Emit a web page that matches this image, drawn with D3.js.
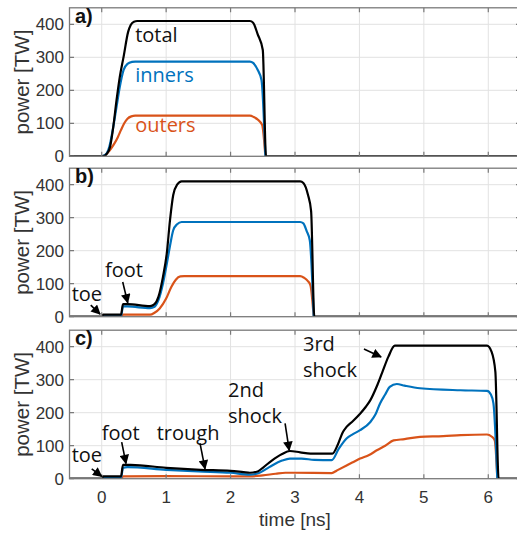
<!DOCTYPE html>
<html>
<head>
<meta charset="utf-8">
<script src="https://cdn.jsdelivr.net/npm/d3@7"></script>
<style>
  body { margin: 0; background: #fff; }
  svg { display: block; }
  .tick-label { font-family: "Liberation Sans", Arial, sans-serif; font-size: 17px; fill: #333; }
  .axis-title { font-family: "Liberation Sans", Arial, sans-serif; font-size: 20.5px; fill: #333; }
  .panel-label { font-family: "Liberation Sans", Arial, sans-serif; font-size: 20px; font-weight: bold; fill: #111; }
  .note { font-family: "Open Sans", "Noto Sans", sans-serif; font-size: 20px; }
</style>
</head>
<body>
<svg id="chart" width="517" height="533"></svg>
<script>
// tick values
var xTicks = [0, 1, 2, 3, 4, 5, 6]
var yTicks = [0, 100, 200, 300, 400]
var panelNames = ["a)", "b)", "c)"]

// panel a) [time ns, power TW]
var aTotal = [[-0.5,0],[0.02,0],[0.08,8],[0.13,29],[0.18,90],[0.23,170],[0.28,240],[0.34,302],[0.41,377],[0.45,398],[0.5,408],[0.55,410],[2.3,410],[2.35,405],[2.42,370],[2.5,322],[2.55,0],[6.5,0]]
var aInner = [[0,0],[0.06,5],[0.12,30],[0.18,90],[0.23,150],[0.28,210],[0.34,262],[0.4,280],[0.47,286],[0.52,287],[2.3,287],[2.35,283],[2.42,262],[2.48,231],[2.54,0]]
var aOuter = [[0,0],[0.05,3],[0.1,12],[0.15,25],[0.2,40],[0.25,58],[0.3,80],[0.35,100],[0.4,114],[0.46,121],[0.52,123],[2.3,123],[2.36,119],[2.43,110],[2.49,95],[2.54,0]]

// panel b)
var bTotal = [[-0.5,0],[0,0],[0.02,6],[0.3,6],[0.33,38],[0.4,38],[0.75,32],[0.82,38],[0.88,60],[0.95,120],[1.01,192],[1.06,293],[1.11,369],[1.17,400],[1.24,410],[3.08,410],[3.13,405],[3.2,370],[3.25,320],[3.3,0],[6.5,0]]
var bInner = [[0,1],[0.3,1],[0.33,31],[0.4,31],[0.75,26],[0.82,30],[0.88,50],[0.95,100],[1.01,160],[1.06,215],[1.11,262],[1.17,280],[1.24,287],[3.08,287],[3.13,283],[3.18,260],[3.23,231],[3.29,0]]
var bOuter = [[0,0],[0.3,0],[0.33,6],[0.75,6],[0.82,12],[0.9,25],[1.0,55],[1.08,90],[1.15,112],[1.22,122],[1.28,123],[3.08,123],[3.14,118],[3.2,108],[3.24,95],[3.29,0]]

// panel c)
var cTotal = [[-0.5,0],[0,0],[0.02,7],[0.3,7],[0.33,42],[0.45,42],[1.0,33],[1.53,27],[2.0,24],[2.2,20],[2.3,18],[2.42,22],[2.5,33],[2.64,55],[2.8,75],[2.92,84],[3.08,80],[3.24,76],[3.58,76],[3.67,106],[3.74,140],[3.8,157],[3.9,175],[4.01,197],[4.1,218],[4.17,238],[4.27,280],[4.35,320],[4.45,370],[4.55,403],[5.98,403],[6.05,385],[6.11,324],[6.16,0],[6.5,0]]
var cInner = [[0,2],[0.3,2],[0.33,33],[0.4,35],[1.0,27],[1.5,22],[2.0,18],[2.3,12],[2.45,18],[2.6,35],[2.8,55],[2.92,61],[3.1,61],[3.3,57],[3.57,56],[3.68,91],[3.8,122],[3.9,135],[4.01,147],[4.17,172],[4.25,195],[4.32,228],[4.4,255],[4.47,278],[4.58,287],[4.7,282],[4.94,274],[5.57,268],[5.98,266],[6.04,255],[6.08,228],[6.14,0]]
var cOuter = [[0,0],[0.3,0],[0.33,7],[1.0,8],[2.0,7],[2.3,7],[2.5,10],[2.7,15],[2.85,18],[3.0,18],[3.57,17],[3.65,25],[3.8,40],[3.9,50],[4.01,61],[4.15,72],[4.27,86],[4.4,100],[4.53,116],[4.7,120],[4.94,127],[5.3,129],[5.57,132],[5.98,134],[6.05,128],[6.1,116],[6.14,0]]

// text notes [panel, text, t, power, colour]
var notes = [
  [0, "total", 0.52, 347, "#111"],
  [0, "inners", 0.52, 226, "#0072BD"],
  [0, "outers", 0.52, 75, "#D95319"],
  [1, "toe", -0.466, 47, "#111"],
  [1, "foot", 0.05, 119, "#111"],
  [2, "toe", -0.466, 50, "#111"],
  [2, "foot", 0.0, 118, "#111"],
  [2, "trough", 0.854, 116, "#111"],
  [2, "2nd", 1.96, 248, "#111"],
  [2, "shock", 1.96, 168, "#111"],
  [2, "3rd", 3.124, 388, "#111"],
  [2, "shock", 3.124, 309, "#111"]
]
// arrows [panel, t0, p0, t1, p1]
var arrows = [
  [1, -0.17, 35, -0.026, 8],
  [1, 0.326, 105, 0.404, 42],
  [2, -0.155, 30, 0.0, 7],
  [2, 0.31, 111, 0.377, 46],
  [2, 1.526, 107, 1.604, 30],
  [2, 2.846, 168, 2.91, 86],
  [2, 4.07, 393, 4.336, 369]
]

var panels = [
  {top: 7.8, series: [aOuter, aInner, aTotal]},
  {top: 168.2, series: [bOuter, bInner, bTotal]},
  {top: 330.2, series: [cOuter, cInner, cTotal]}
]
var colors = ["#D95319", "#0072BD", "#000"]
var panelH = 148.5

var svg = d3.select("#chart")
var x = d3.scaleLinear().domain([-0.5, 6.5]).range([69.5, 520.5])
var boxColor = "#7a7a7a"

svg.append("defs").append("marker")
    .attr("id", "head")
    .attr("viewBox", "0 0 10 10")
    .attr("refX", 9).attr("refY", 5)
    .attr("markerWidth", 6.5).attr("markerHeight", 6)
    .attr("markerUnits", "strokeWidth")
    .attr("orient", "auto")
    .append("path").attr("d", "M0,0 L10,5 L0,10 z").attr("fill", "#000")

panels.forEach((p, k) => {
    var y = d3.scaleLinear().domain([0, 450]).range([p.top + panelH, p.top])
    p.y = y
    var g = svg.append("g")
    var x0 = x.range()[0], x1 = x.range()[1]

    svg.append("clipPath").attr("id", "clip" + k)
        .append("rect").attr("x", x0).attr("y", p.top).attr("width", x1 - x0).attr("height", panelH)

    // grid
    g.selectAll("line.gx").data(xTicks).enter().append("line")
        .attr("x1", d => x(d)).attr("x2", d => x(d))
        .attr("y1", p.top).attr("y2", p.top + panelH)
        .attr("stroke", "#e2e2e2").attr("stroke-width", 1)
    g.selectAll("line.gy").data(yTicks.slice(1)).enter().append("line")
        .attr("x1", x0).attr("x2", x1)
        .attr("y1", d => y(d)).attr("y2", d => y(d))
        .attr("stroke", "#e2e2e2").attr("stroke-width", 1)

    // series
    var line = d3.line().x(d => x(d[0])).y(d => y(d[1])).curve(d3.curveMonotoneX)
    g.append("g").attr("clip-path", "url(#clip" + k + ")")
        .selectAll("path").data(p.series).enter().append("path")
        .attr("d", line)
        .attr("fill", "none")
        .attr("stroke", (d, i) => colors[i])
        .attr("stroke-width", 2.2)
        .attr("stroke-linejoin", "round")

    // box and inward ticks
    g.append("rect").attr("x", x0).attr("y", p.top).attr("width", x1 - x0).attr("height", panelH)
        .attr("fill", "none").attr("stroke", boxColor).attr("stroke-width", 1.3)
    g.selectAll("line.tx").data(xTicks).enter().append("path")
        .attr("d", d => "M" + x(d) + "," + (p.top + panelH) + "v-4.5M" + x(d) + "," + p.top + "v4.5")
        .attr("stroke", boxColor).attr("stroke-width", 1.2)
    g.selectAll("line.ty").data(yTicks).enter().append("path")
        .attr("d", d => "M" + x0 + "," + y(d) + "h4.5M" + x1 + "," + y(d) + "h-4.5")
        .attr("stroke", boxColor).attr("stroke-width", 1.2)

    // y tick labels
    g.selectAll("text.yl").data(yTicks).enter().append("text")
        .attr("class", "tick-label")
        .attr("x", 64).attr("y", d => y(d)).attr("dy", "0.36em")
        .style("text-anchor", "end")
        .text(d => d)

    g.append("text").attr("class", "axis-title")
        .attr("transform", "translate(29," + (p.top + panelH / 2) + ") rotate(-90)")
        .style("text-anchor", "middle")
        .text("power [TW]")

    g.append("text").attr("class", "panel-label")
        .attr("x", 75).attr("y", p.top + 15)
        .text(panelNames[k])
})

// x axis labels on the bottom panel only
var last = panels[2]
svg.selectAll("text.xl").data(xTicks).enter().append("text")
    .attr("class", "tick-label")
    .attr("x", d => x(d)).attr("y", last.top + panelH + 24)
    .style("text-anchor", "middle")
    .text(d => d)
svg.append("text").attr("class", "axis-title")
    .attr("x", (x.range()[0] + x.range()[1]) / 2).attr("y", 525.5)
    .style("text-anchor", "middle")
    .style("font-size", "19px")
    .text("time [ns]")

// annotations
svg.selectAll("text.note").data(notes).enter().append("text")
    .attr("class", "note")
    .attr("x", d => x(d[2])).attr("y", d => panels[d[0]].y(d[3]))
    .attr("fill", d => d[4])
    .text(d => d[1])

svg.selectAll("line.arrow").data(arrows).enter().append("line")
    .attr("x1", d => x(d[1])).attr("y1", d => panels[d[0]].y(d[2]))
    .attr("x2", d => x(d[3])).attr("y2", d => panels[d[0]].y(d[4]))
    .attr("stroke", "#000").attr("stroke-width", 1.6)
    .attr("marker-end", "url(#head)")
</script>
</body>
</html>
